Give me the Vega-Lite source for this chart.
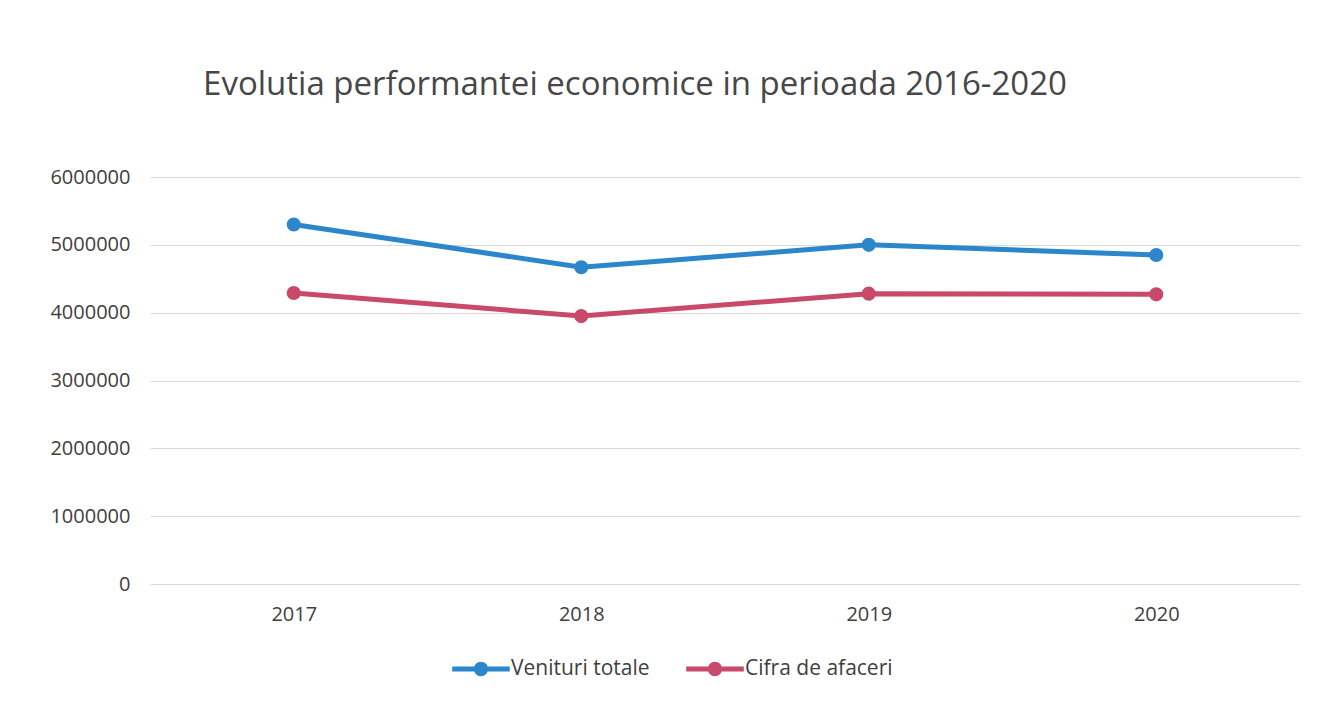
{
  "$schema": "https://vega.github.io/schema/vega-lite/v6.json",
  "width": 1150,
  "height": 407,
  "autosize": {"type": "none"},
  "padding": {"left": 150, "top": 177, "right": 36, "bottom": 138},
  "background": "white",
  "title": {
    "text": "Evolutia performantei economice in perioada 2016-2020",
    "font": "Open Sans",
    "fontSize": 33,
    "fontWeight": "normal",
    "color": "#474747",
    "anchor": "middle",
    "dx": -90,
    "offset": 65
  },
  "data": {
    "values": [
      {"an": "2017", "serie": "Venituri totale", "valoare": 5300000},
      {"an": "2018", "serie": "Venituri totale", "valoare": 4670000},
      {"an": "2019", "serie": "Venituri totale", "valoare": 5000000},
      {"an": "2020", "serie": "Venituri totale", "valoare": 4850000},
      {"an": "2017", "serie": "Cifra de afaceri", "valoare": 4290000},
      {"an": "2018", "serie": "Cifra de afaceri", "valoare": 3950000},
      {"an": "2019", "serie": "Cifra de afaceri", "valoare": 4280000},
      {"an": "2020", "serie": "Cifra de afaceri", "valoare": 4270000}
    ]
  },
  "config": {
    "view": {"stroke": null},
    "font": "Open Sans"
  },
  "mark": {"type": "line", "strokeWidth": 5, "point": {"size": 200, "filled": true, "opacity": 1}},
  "encoding": {
    "x": {
      "field": "an",
      "type": "ordinal",
      "title": null,
      "axis": {
        "labelAngle": 0,
        "labelFont": "Open Sans",
        "labelFontSize": 20,
        "labelColor": "#404040",
        "labelPadding": 20,
        "domain": false,
        "ticks": false,
        "grid": false
      }
    },
    "y": {
      "field": "valoare",
      "type": "quantitative",
      "title": null,
      "scale": {"domain": [0, 6000000], "nice": false},
      "axis": {
        "values": [0, 1000000, 2000000, 3000000, 4000000, 5000000, 6000000],
        "format": "d",
        "labelFont": "Open Sans",
        "labelFontSize": 20,
        "labelColor": "#404040",
        "labelPadding": 20,
        "domain": false,
        "ticks": false,
        "grid": true,
        "gridColor": "#d9d9d9",
        "gridWidth": 1
      }
    },
    "color": {
      "field": "serie",
      "type": "nominal",
      "sort": ["Venituri totale", "Cifra de afaceri"],
      "scale": {"domain": ["Venituri totale", "Cifra de afaceri"], "range": ["#2C86CC", "#C8496A"]},
      "legend": {
        "orient": "none",
        "legendX": 313,
        "legendY": 474,
        "direction": "horizontal",
        "title": null,
        "labelFont": "Open Sans",
        "labelFontSize": 21,
        "labelColor": "#404040",
        "symbolType": "M-1.6,-0.14H-0.38V0.14H-1.6Z M0.38,-0.14H1.6V0.14H0.38Z M-0.4,0A0.4,0.4 0 1,1 0.4,0A0.4,0.4 0 1,1 -0.4,0Z",
        "symbolSize": 1296,
        "symbolStrokeWidth": 0,
        "labelOffset": 12,
        "columnPadding": 36,
        "encode": {
          "symbols": {
            "update": {
              "fill": {"scale": "color", "field": "value"},
              "strokeWidth": {"value": 0},
              "opacity": {"value": 1}
            }
          }
        }
      }
    }
  }
}
